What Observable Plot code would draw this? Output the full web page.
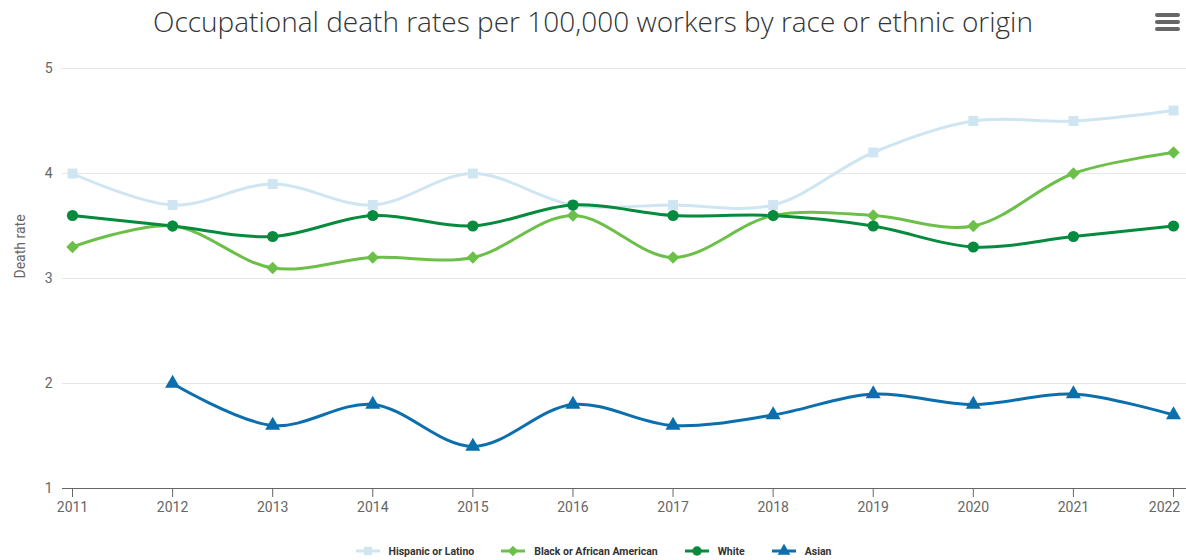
<!DOCTYPE html>
<html>
<head>
<meta charset="utf-8">
<script src="https://cdn.jsdelivr.net/npm/d3@7"></script>
<script src="https://cdn.jsdelivr.net/npm/@observablehq/plot@0.6"></script>
<style>
  html, body { margin: 0; padding: 0; background: #fff; }
  body { width: 1186px; height: 560px; position: relative; overflow: hidden; font-family: Roboto, "Open Sans", sans-serif; }
  #title { position: absolute; top: 2px; left: 0; width: 1186px; text-align: center; font-family: "Open Sans", Lato, sans-serif; font-weight: 300; font-size: 28px; color: #333; letter-spacing: 0; }
  #menu { position: absolute; left: 1155px; top: 13px; width: 25px; }
  #menu span { display: block; height: 4px; background: #666; border-radius: 2px; margin-bottom: 3px; }
  #chart { position: absolute; top: 40px; left: 0; }
  #legend { position: absolute; top: 544px; left: 0; width: 1186px; display: flex; justify-content: center; gap: 0; font-family: Roboto, sans-serif; font-weight: bold; font-size: 10.5px; color: #333; }
  .item { display: flex; align-items: center; margin: 0 13px; }
  .item svg { margin-right: 8px; }
</style>
</head>
<body>
<div id="title">Occupational death rates per 100,000 workers by race or ethnic origin</div>
<div id="menu"><span></span><span></span><span></span></div>
<div id="chart"></div>
<div id="legend"></div>
<script>
const years = [2011, 2012, 2013, 2014, 2015, 2016, 2017, 2018, 2019, 2020, 2021, 2022];
const seriesNames = ["Hispanic or Latino", "Black or African American", "White", "Asian"];
const hispanic = [4.0, 3.7, 3.9, 3.7, 4.0, 3.7, 3.7, 3.7, 4.2, 4.5, 4.5, 4.6];
const black    = [3.3, 3.5, 3.1, 3.2, 3.2, 3.6, 3.2, 3.6, 3.6, 3.5, 4.0, 4.2];
const white    = [3.6, 3.5, 3.4, 3.6, 3.5, 3.7, 3.6, 3.6, 3.5, 3.3, 3.4, 3.5];
const asian    = [null, 2.0, 1.6, 1.8, 1.4, 1.8, 1.6, 1.7, 1.9, 1.8, 1.9, 1.7];
const colors   = ["#cfe6f2", "#6cc04a", "#058a3e", "#0b6fad"];
const symbols  = [d3.symbolSquare, d3.symbolDiamond2, d3.symbolCircle, d3.symbolTriangle];
const yTicks   = [1, 2, 3, 4, 5];

const allValues = [hispanic, black, white, asian];
const data = [];
seriesNames.forEach((name, i) => {
  years.forEach((yr, j) => {
    const v = allValues[i][j];
    if (v != null) data.push({series: name, year: yr, value: v});
  });
});
const lastYear = years[years.length - 1];

const plot = Plot.plot({
  width: 1186,
  height: 490,
  marginTop: 28,
  marginBottom: 42,
  marginLeft: 62,
  marginRight: 0,
  style: {fontFamily: "Roboto, sans-serif", fontSize: "14px", color: "#666", background: "transparent"},
  x: {domain: [years[0], lastYear], insetLeft: 10, insetRight: 13, label: null},
  y: {domain: [1, 5], label: null},
  color: {domain: seriesNames, range: colors},
  symbol: {domain: seriesNames, range: symbols},
  marks: [
    Plot.ruleY(yTicks, {stroke: "#e6e6e6", strokeWidth: 1}),
    Plot.axisY({ticks: yTicks, tickFormat: "d", tickSize: 0, tickPadding: 10, fill: "#666", fontSize: 14, label: null}),
    Plot.text(["Death rate"], {frameAnchor: "left", dx: -42, rotate: -90, fill: "#666", fontSize: 14}),
    Plot.ruleY([1], {stroke: "#666", strokeWidth: 1}),
    Plot.axisX({ticks: years, tickFormat: () => "", tickSize: 9, stroke: "#666", label: null}),
    Plot.axisX({ticks: years.slice(0, -1), tickFormat: d => String(d), tickSize: 0, tickPadding: 14, fill: "#666", fontSize: 14, label: null}),
    Plot.axisX({ticks: [lastYear], tickFormat: d => String(d), tickSize: 0, tickPadding: 14, dx: -9, fill: "#666", fontSize: 14, label: null}),
    Plot.line(data, {x: "year", y: "value", z: "series", stroke: "series", strokeWidth: 3, curve: "catmull-rom"}),
    Plot.dot(data, {x: "year", y: "value", fill: "series", symbol: "series", r: 5.6, stroke: "none"})
  ]
});
document.getElementById("chart").appendChild(plot);

// legend
const legend = document.getElementById("legend");
seriesNames.forEach((name, i) => {
  const item = document.createElement("div");
  item.className = "item";
  const sw = d3.create("svg").attr("width", 26).attr("height", 14);
  sw.append("line").attr("x1", 1).attr("x2", 25).attr("y1", 7).attr("y2", 7).attr("stroke", colors[i]).attr("stroke-width", 3);
  sw.append("path").attr("transform", "translate(13,7)").attr("d", d3.symbol(symbols[i], 70)()).attr("fill", colors[i]);
  item.appendChild(sw.node());
  const t = document.createElement("span");
  t.textContent = name;
  item.appendChild(t);
  legend.appendChild(item);
});
</script>
</body>
</html>
